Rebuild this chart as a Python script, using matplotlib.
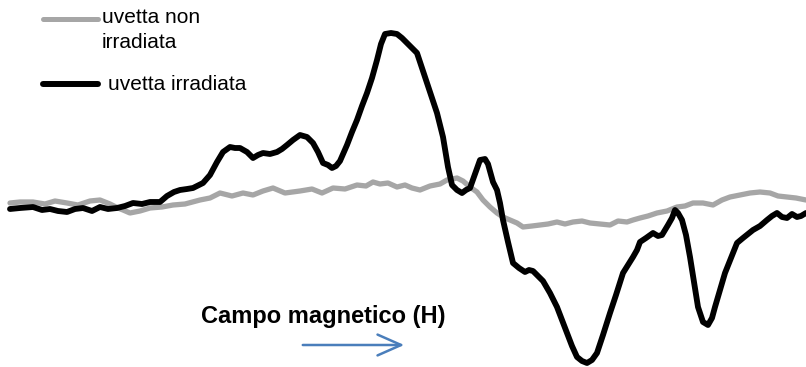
import matplotlib.pyplot as plt
from matplotlib.lines import Line2D

# curves (field position, signal; screen units, y grows downward)
x_irr = [10, 20, 33, 42, 50, 58, 67, 75, 83, 92, 100, 108, 117, 125, 133, 142, 150, 160, 167, 174,
         180, 187, 193, 203, 210, 217, 223, 230, 235, 240, 247, 253, 258, 263, 270, 277, 282, 287,
         293, 300, 307, 313, 318, 323, 328, 332, 336, 340, 347, 352, 357, 362, 367, 372, 377, 381,
         385, 391, 397, 402, 407, 412, 417, 422, 427, 432, 437, 443, 448, 452, 457, 462, 466, 470,
         475, 480, 485, 488, 493, 497, 500, 503, 508, 513, 519, 525, 529, 533, 538, 543, 550, 557,
         562, 567, 572, 577, 582, 587, 592, 597, 603, 610, 616, 623, 628, 633, 637, 640, 646, 653,
         658, 662, 668, 672, 675, 678, 682, 686, 690, 694, 698, 703, 708, 712, 715, 720, 725, 731,
         737, 743, 748, 753, 760, 767, 772, 777, 782, 787, 792, 797, 801, 806]
y_irr = [209, 208, 207, 210, 209, 211, 212, 209, 208, 211, 207, 209, 208, 206, 203, 204, 202, 202, 196, 192,
         190, 189, 188, 183, 175, 162, 152, 147, 148, 148, 152, 158, 155, 153, 154, 152, 149, 145,
         140, 135, 137, 143, 152, 163, 165, 168, 166, 161, 145, 132, 120, 106, 93, 78, 60, 44,
         34, 33, 34, 38, 43, 48, 53, 68, 83, 98, 113, 137, 167, 185, 190, 193, 190, 188,
         174, 160, 159, 164, 182, 190, 203, 220, 242, 263, 268, 272, 270, 271, 276, 281, 293, 307,
         320, 333, 346, 357, 361, 363, 360, 353, 335, 313, 295, 273, 265, 257, 250, 242, 238, 233,
         236, 235, 225, 218, 210, 213, 220, 235, 257, 282, 307, 322, 325, 318, 307, 290, 273, 258,
         243, 238, 234, 230, 226, 220, 216, 213, 217, 218, 214, 217, 216, 213]

x_non = [10, 20, 33, 45, 55, 67, 78, 90, 100, 110, 118, 123, 130, 140, 150, 162, 173, 185, 200, 210,
         220, 232, 243, 253, 263, 273, 285, 300, 312, 322, 333, 345, 357, 366, 373, 380, 388, 397,
         405, 412, 420, 430, 440, 447, 452, 457, 463, 470, 477, 483, 490, 497, 503, 510, 517, 523,
         532, 540, 548, 557, 565, 573, 582, 590, 600, 610, 618, 627, 633, 640, 648, 657, 667, 677,
         685, 693, 703, 713, 722, 730, 740, 750, 760, 770, 778, 787, 796, 806]
y_non = [203, 202, 202, 204, 201, 203, 205, 201, 200, 204, 208, 210, 213, 211, 208, 207, 205, 204, 200, 198,
         193, 196, 193, 195, 191, 188, 193, 191, 189, 193, 188, 189, 185, 186, 182, 184, 183, 187,
         185, 188, 190, 186, 184, 180, 179, 178, 181, 187, 192, 200, 207, 213, 217, 220, 223, 227,
         226, 225, 224, 222, 224, 222, 221, 223, 224, 225, 221, 222, 220, 218, 216, 213, 211, 207,
         206, 203, 203, 205, 200, 197, 195, 193, 192, 193, 196, 197, 198, 200]

label_non = "uvetta non\nirradiata"
label_irr = "uvetta irradiata"
axis_label = "Campo magnetico (H)"

gray = '#a6a6a6'
black = '#000000'
blue = '#4a7ebb'

plt.rcParams['font.family'] = ['Liberation Sans', 'DejaVu Sans']

fig = plt.figure(figsize=(8.06, 3.67), dpi=100)
ax = fig.add_axes([0, 0, 1, 1])
ax.set_xlim(0, 806)
ax.set_ylim(367, 0)
ax.axis('off')

ax.plot(x_non, y_non, color=gray, lw=3.8, solid_capstyle='round', solid_joinstyle='round', zorder=2)
ax.plot(x_irr, y_irr, color=black, lw=4.2, solid_capstyle='round', solid_joinstyle='round', zorder=3)

# legend keys drawn by hand, the two entries are laid out separately
fig.add_artist(Line2D([43 / 806, 98 / 806], [1 - 19 / 367, 1 - 19 / 367], color=gray, lw=3.6,
                      solid_capstyle='round', transform=fig.transFigure))
fig.add_artist(Line2D([43 / 806, 98 / 806], [1 - 84 / 367, 1 - 84 / 367], color=black, lw=4.3,
                      solid_capstyle='round', transform=fig.transFigure))
fig.text(102 / 806, 1 - 8 / 367, label_non, fontsize=15, va='top', ha='left', linespacing=1.4)
fig.text(108 / 806, 1 - 84 / 367, label_irr, fontsize=15, va='center', ha='left')

fig.text(201 / 806, 1 - 316 / 367, axis_label, fontsize=17, fontweight='bold', va='center', ha='left')
ax.annotate('', xy=(407, 345), xytext=(300, 345),
            arrowprops=dict(arrowstyle='->,head_length=1.7,head_width=0.75', color=blue, lw=1.8))

fig.savefig('out.png', dpi=100)
